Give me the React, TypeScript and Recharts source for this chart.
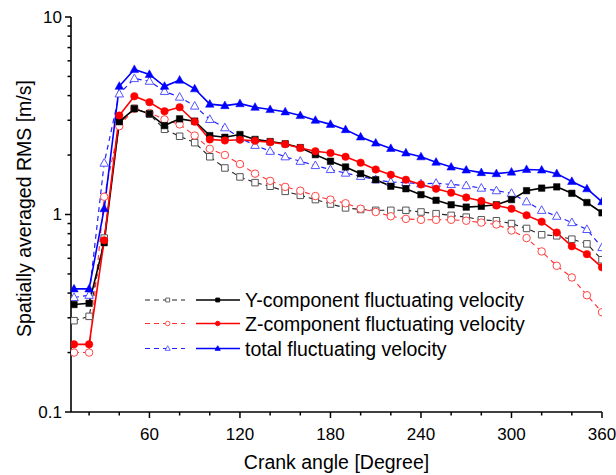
import React from 'react';
import { LineChart, Line, XAxis, YAxis, Legend } from 'recharts';

const angles = [10,20,30,40,50,60,70,80,90,100,110,120,130,140,150,160,170,180,190,200,210,220,230,240,250,260,270,280,290,300,310,320,330,340,350,360];

const ySolid = [0.35,0.355,0.72,2.95,3.43,3.24,2.82,3.05,2.97,2.51,2.46,2.54,2.4,2.34,2.28,2.18,2.01,1.86,1.74,1.61,1.5,1.39,1.35,1.26,1.18,1.12,1.09,1.1,1.12,1.19,1.32,1.36,1.38,1.28,1.15,1.02];
const yDashed = [0.29,0.305,0.76,2.9,3.45,3.22,2.7,2.49,2.31,1.96,1.72,1.55,1.45,1.39,1.31,1.25,1.19,1.13,1.08,1.06,1.05,1.05,1.05,1.03,1.01,0.99,0.97,0.94,0.93,0.9,0.85,0.79,0.78,0.75,0.71,0.59];
const zSolid = [0.22,0.22,0.74,3.17,3.97,3.7,3.33,3.49,2.95,2.4,2.37,2.39,2.36,2.32,2.27,2.17,2.09,2.05,1.96,1.83,1.69,1.59,1.5,1.42,1.35,1.29,1.22,1.17,1.11,1.07,0.99,0.92,0.81,0.69,0.63,0.54];
const zDashed = [0.2,0.2,1.23,2.8,3.43,3.27,3.03,2.86,2.51,2.15,2.0,1.8,1.61,1.48,1.38,1.32,1.24,1.19,1.14,1.07,1.03,0.98,0.95,0.94,0.94,0.94,0.93,0.91,0.89,0.83,0.76,0.65,0.55,0.48,0.39,0.32];
const totalSolid = [0.42,0.42,1.07,4.46,5.42,5.12,4.46,4.79,4.33,3.62,3.56,3.64,3.49,3.4,3.31,3.17,3.0,2.86,2.69,2.47,2.3,2.16,2.05,1.96,1.84,1.74,1.68,1.63,1.61,1.64,1.69,1.68,1.61,1.47,1.35,1.16];
const totalDashed = [0.38,0.39,1.82,4.08,4.88,4.73,4.2,3.93,3.54,3.03,2.75,2.44,2.24,2.09,1.96,1.86,1.77,1.69,1.62,1.56,1.5,1.46,1.45,1.43,1.44,1.42,1.4,1.36,1.32,1.28,1.16,1.05,0.98,0.91,0.84,0.68];

const xTicks = [20,40,60,80,100,120,140,160,180,200,220,240,260,280,300,320,340,360];
const xMajor = [60,120,180,240,300,360];
const yTicks = [0.1,0.2,0.3,0.4,0.5,0.6,0.7,0.8,0.9,1,2,3,4,5,6,7,8,9,10];
const yMajor = [0.1,1,10];
const yMajorLabels = ['0.1','1','10'];
const legendLabels = ['Y-component fluctuating velocity','Z-component fluctuating velocity','total fluctuating velocity'];
const xTitle = 'Crank angle [Degree]';
const yTitle = 'Spatially averaged RMS [m/s]';

const data = angles.map((a, i) => ({
  angle: a,
  yDashed: yDashed[i],
  ySolid: ySolid[i],
  zDashed: zDashed[i],
  zSolid: zSolid[i],
  totalDashed: totalDashed[i],
  totalSolid: totalSolid[i],
}));

const FONT = '"Liberation Sans", Arial, sans-serif';

type Shape = 'square' | 'circle' | 'triangle';

const markerPath = (shape: Shape, cx: number, cy: number, s: number) => {
  if (shape === 'square') return `M${cx - s / 2},${cy - s / 2}h${s}v${s}h${-s}Z`;
  if (shape === 'triangle') {
    const h = s * 0.9;
    return `M${cx},${cy - h * 0.6}L${cx + s / 2},${cy + h * 0.4}L${cx - s / 2},${cy + h * 0.4}Z`;
  }
  return '';
};

const Marker = ({ shape, cx, cy, size, fill, stroke, sw }: any) => {
  if (shape === 'circle') {
    return <circle cx={cx} cy={cy} r={size / 2} fill={fill} stroke={stroke} strokeWidth={sw} />;
  }
  return <path d={markerPath(shape, cx, cy, size)} fill={fill} stroke={stroke} strokeWidth={sw} />;
};

const makeDot = (shape: Shape, size: number, fill: string, stroke: string, sw: number) => (props: any) => {
  const { cx, cy, index } = props;
  if (cx == null || cy == null) return <g key={index} />;
  return <Marker key={index} shape={shape} cx={cx} cy={cy} size={size} fill={fill} stroke={stroke} sw={sw} />;
};

const series = [
  { key: 'yDashed', color: '#222222', dash: '5 4', width: 1.1, shape: 'square' as Shape, size: 6.5, fill: '#ffffff', mstroke: '#555555', open: true },
  { key: 'zDashed', color: '#ff3030', dash: '5 4', width: 1.1, shape: 'circle' as Shape, size: 7.5, fill: '#ffffff', mstroke: '#ff4545', open: true },
  { key: 'totalDashed', color: '#2020ff', dash: '5 4', width: 1.2, shape: 'triangle' as Shape, size: 8.5, fill: '#ffffff', mstroke: '#5555ff', open: true },
  { key: 'ySolid', color: '#000000', dash: undefined, width: 1.6, shape: 'square' as Shape, size: 6.5, fill: '#000000', mstroke: '#000000', open: false },
  { key: 'zSolid', color: '#ff0000', dash: undefined, width: 1.6, shape: 'circle' as Shape, size: 7.5, fill: '#ff0000', mstroke: '#ff0000', open: false },
  { key: 'totalSolid', color: '#0000ff', dash: undefined, width: 1.6, shape: 'triangle' as Shape, size: 8.5, fill: '#0000ff', mstroke: '#0000ff', open: false },
];

const YTick = (props: any) => {
  const { x, y, payload } = props;
  const v = payload.value;
  const mi = yMajor.findIndex((m) => Math.abs(m - v) < 1e-9);
  const major = mi >= 0;
  return (
    <g>
      <line x1={x - (major ? 6 : 3.5)} x2={x} y1={y} y2={y} stroke="#000" strokeWidth={1.5} />
      {major && (
        <text x={x - 9} y={y} textAnchor="end" dominantBaseline="central" fontSize={17} fontFamily={FONT} fill="#000">
          {yMajorLabels[mi]}
        </text>
      )}
    </g>
  );
};

const XTick = (props: any) => {
  const { x, y, payload } = props;
  const v = payload.value;
  const major = xMajor.includes(v);
  return (
    <g>
      <line x1={x} x2={x} y1={y} y2={y + (major ? 6 : 3.5)} stroke="#000" strokeWidth={1.5} />
      {major && (
        <text x={x} y={y + 22} textAnchor="middle" dominantBaseline="central" fontSize={17} fontFamily={FONT} fill="#000">
          {String(v)}
        </text>
      )}
    </g>
  );
};

const YTitle = (props: any) => {
  const { viewBox } = props;
  const cx = 24;
  const cy = viewBox.y + viewBox.height / 2 - 6;
  return (
    <text x={cx} y={cy} transform={`rotate(-90 ${cx} ${cy})`} textAnchor="middle" dominantBaseline="central" fontSize={19.5} fontFamily={FONT} fill="#000">
      {yTitle}
    </text>
  );
};

const XTitle = (props: any) => {
  const { viewBox } = props;
  const cx = viewBox.x + viewBox.width / 2;
  return (
    <text x={cx} y={viewBox.y + 50} textAnchor="middle" dominantBaseline="central" fontSize={19.5} fontFamily={FONT} fill="#000">
      {xTitle}
    </text>
  );
};

const LegendContent = () => {
  const rows = [
    [series[0], series[3]],
    [series[1], series[4]],
    [series[2], series[5]],
  ];
  const rowY = [15, 38.5, 63.5];
  return (
    <svg width={400} height={80} style={{ display: 'block', overflow: 'visible' }}>
      {rows.map(([d, s], i) => (
        <g key={i}>
          <line x1={5} x2={45} y1={rowY[i]} y2={rowY[i]} stroke={d.color} strokeWidth={d.width} strokeDasharray={d.dash} />
          <Marker shape={d.shape} cx={27.7} cy={rowY[i]} size={d.size * 0.6} fill="#fff" stroke={d.mstroke} sw={0.9} />
          <line x1={56} x2={100} y1={rowY[i]} y2={rowY[i]} stroke={s.color} strokeWidth={1.4} />
          <Marker shape={s.shape} cx={77.7} cy={rowY[i]} size={s.size * 0.6} fill={s.fill} stroke={s.mstroke} sw={0.9} />
          <text x={105} y={rowY[i]} dominantBaseline="central" fontSize={19.5} fontFamily={FONT} fill="#000">
            {legendLabels[i]}
          </text>
        </g>
      ))}
    </svg>
  );
};

export default function App() {
  return (
    <div style={{ position: 'absolute', left: 0, top: 0, background: '#fff' }}>
      <LineChart width={616} height={475} data={data} margin={{ top: 17, right: 14, left: 0, bottom: 0 }} style={{ fontFamily: FONT }}>
        <XAxis
          dataKey="angle"
          type="number"
          domain={[8, 360]}
          ticks={xTicks}
          interval={0}
          allowDataOverflow
          height={63}
          tickSize={0}
          tickMargin={0}
          tickLine={false}
          tick={XTick}
          axisLine={{ stroke: '#000', strokeWidth: 1.6 }}
          label={<XTitle />}
        />
        <YAxis
          type="number"
          scale="log"
          domain={[0.1, 10]}
          ticks={yTicks}
          interval={0}
          allowDataOverflow
          width={71}
          tickSize={0}
          tickMargin={0}
          tickLine={false}
          tick={YTick}
          axisLine={{ stroke: '#000', strokeWidth: 1.6 }}
          label={<YTitle />}
        />
        {series.map((s) => (
          <Line
            key={s.key}
            type="linear"
            dataKey={s.key}
            stroke={s.color}
            strokeWidth={s.width}
            strokeDasharray={s.dash}
            dot={makeDot(s.shape, s.size, s.fill, s.mstroke, s.open ? 1 : 0.5)}
            activeDot={false}
            isAnimationActive={false}
          />
        ))}
        <Legend
          layout="horizontal"
          verticalAlign="middle"
          align="center"
          content={<LegendContent />}
          wrapperStyle={{ position: 'absolute', left: 140, top: 285, width: 400, height: 80 }}
        />
      </LineChart>
    </div>
  );
}
